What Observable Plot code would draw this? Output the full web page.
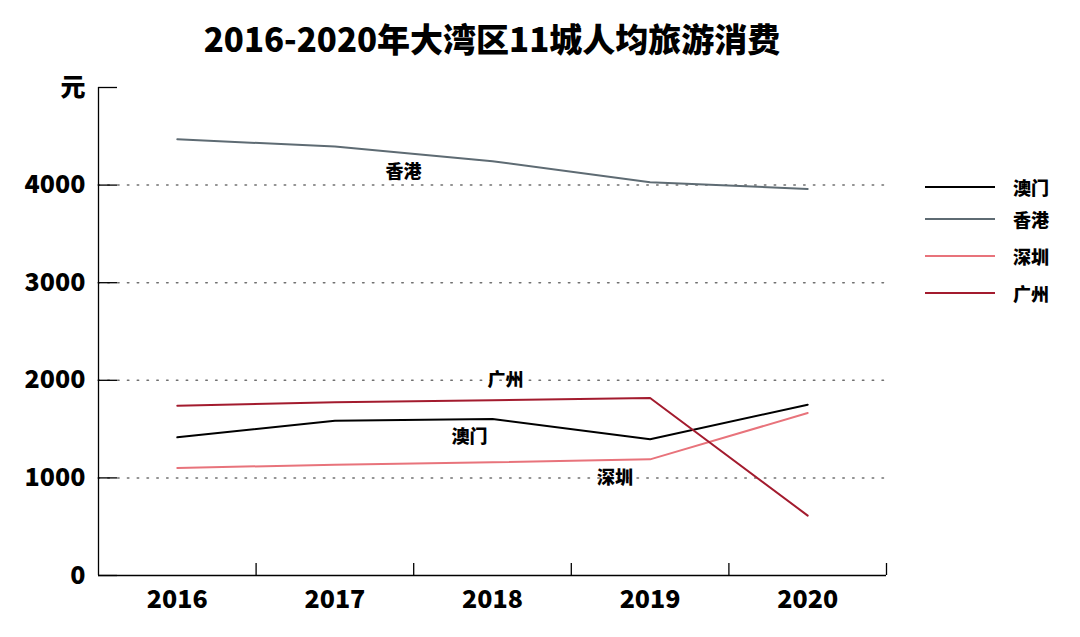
<!DOCTYPE html>
<html>
<head>
<meta charset="utf-8">
<script src="https://cdn.jsdelivr.net/npm/d3@7"></script>
<script src="https://cdn.jsdelivr.net/npm/@observablehq/plot@0.6"></script>
<style>
  html, body { margin: 0; padding: 0; background: #fff; }
  body { width: 1080px; height: 637px; position: relative; overflow: hidden;
         font-family: "Noto Sans CJK SC", "Noto Sans", sans-serif; }
  #title { position: absolute; left: 98px; top: 14px; width: 788px; height: 48px; line-height: 48px;
           text-align: center; font-size: 33px; font-weight: 900; color: #000; }
  #chart { position: absolute; left: 0; top: 70px; }
  #legend { position: absolute; left: 925px; top: 0; }
  .lg { position: absolute; left: 0; width: 140px; height: 24px; }
  .lg .ln { position: absolute; left: 0; top: 11px; width: 70px; height: 2px; }
  .lg .tx { position: absolute; left: 88px; top: 0; line-height: 24px; font-size: 18px; font-weight: 900; color: #000; white-space: nowrap; }
</style>
</head>
<body>
<div id="title">2016-2020年大湾区11城人均旅游消费</div>
<div id="chart"></div>
<div id="legend"></div>
<script>
const years = [2016, 2017, 2018, 2019, 2020];
const cities = ["澳门", "香港", "深圳", "广州"];
const macau = [1416, 1586, 1604, 1395, 1750];
const hongkong = [4470, 4395, 4245, 4030, 3960];
const shenzhen = [1102, 1135, 1160, 1190, 1665];
const guangzhou = [1740, 1774, 1796, 1819, 614];
const colors = ["#000000", "#5e6b73", "#e8737b", "#a31b2e"];
const yTicks = [0, 1000, 2000, 3000, 4000, 5000];
const gridTicks = [1000, 2000, 3000, 4000];
const xBounds = [2015.5, 2016.5, 2017.5, 2018.5, 2019.5, 2020.5];
const unitLabel = "元";
// annotation labels: anchored at a series point, with pixel offsets
const labelCity = ["香港", "广州", "澳门", "深圳"];
const labelYear = [2018, 2018, 2018, 2019];
const labelDx = [-89, 13, -23, -35];
const labelDy = [11, -20, 18, 19];

const seriesValues = [macau, hongkong, shenzhen, guangzhou];
const data = [];
cities.forEach((c, i) => years.forEach((y, j) => data.push({city: c, year: y, value: seriesValues[i][j]})));
const labels = labelCity.map((c, i) => ({
  city: c, year: labelYear[i],
  value: seriesValues[cities.indexOf(c)][years.indexOf(labelYear[i])],
  dx: labelDx[i], dy: labelDy[i]
}));

const font = "'Noto Sans CJK SC', 'Noto Sans', sans-serif";

const chart = Plot.plot({
  width: 1080,
  height: 567,
  marginTop: 17,
  marginBottom: 62,
  marginLeft: 98,
  marginRight: 194,
  style: {fontFamily: font, background: "transparent", overflow: "visible"},
  x: {domain: [xBounds[0], xBounds[xBounds.length - 1]], axis: null},
  y: {domain: [0, 5000], axis: null},
  color: {domain: cities, range: colors},
  marks: [
    Plot.gridY(gridTicks, {stroke: "#707070", strokeOpacity: 1, strokeWidth: 1.5, strokeDasharray: "1.5,8.3", strokeLinecap: "round"}),
    Plot.ruleY([0], {stroke: "#000", strokeWidth: 1.3}),
    Plot.ruleX([xBounds[0]], {stroke: "#000", strokeWidth: 1.3}),
    Plot.axisY(yTicks, {tickSize: -19, text: null, label: null, stroke: "#000", strokeWidth: 1.3}),
    Plot.axisY(yTicks, {tickSize: 0, tickPadding: 13, fontSize: 25, fontWeight: 900, fill: "#000", label: null,
      tickFormat: d => d === 5000 ? unitLabel : String(d)}),
    Plot.axisX(xBounds.slice(1), {tickSize: -12, text: null, label: null, stroke: "#000", strokeWidth: 1.3}),
    Plot.axisX(years, {tickSize: 0, tickPadding: 15, fontSize: 25, fontWeight: 900, fill: "#000", label: null,
      tickFormat: d => String(d)}),
    Plot.line(data, {x: "year", y: "value", z: "city", stroke: "city", strokeWidth: 2}),
    ...labels.map(l => Plot.text([l], {x: "year", y: "value", text: "city", dx: l.dx, dy: l.dy,
      fontSize: 18, fontWeight: 900, fill: "#000"}))
  ]
});
document.getElementById("chart").appendChild(chart);

// legend
const legendTops = [175, 207, 244, 281];
const legend = document.getElementById("legend");
cities.forEach((c, i) => {
  const row = document.createElement("div");
  row.className = "lg";
  row.style.top = legendTops[i] + "px";
  row.innerHTML = `<div class="ln" style="background:${colors[i]}"></div><div class="tx">${c}</div>`;
  legend.appendChild(row);
});
</script>
</body>
</html>
